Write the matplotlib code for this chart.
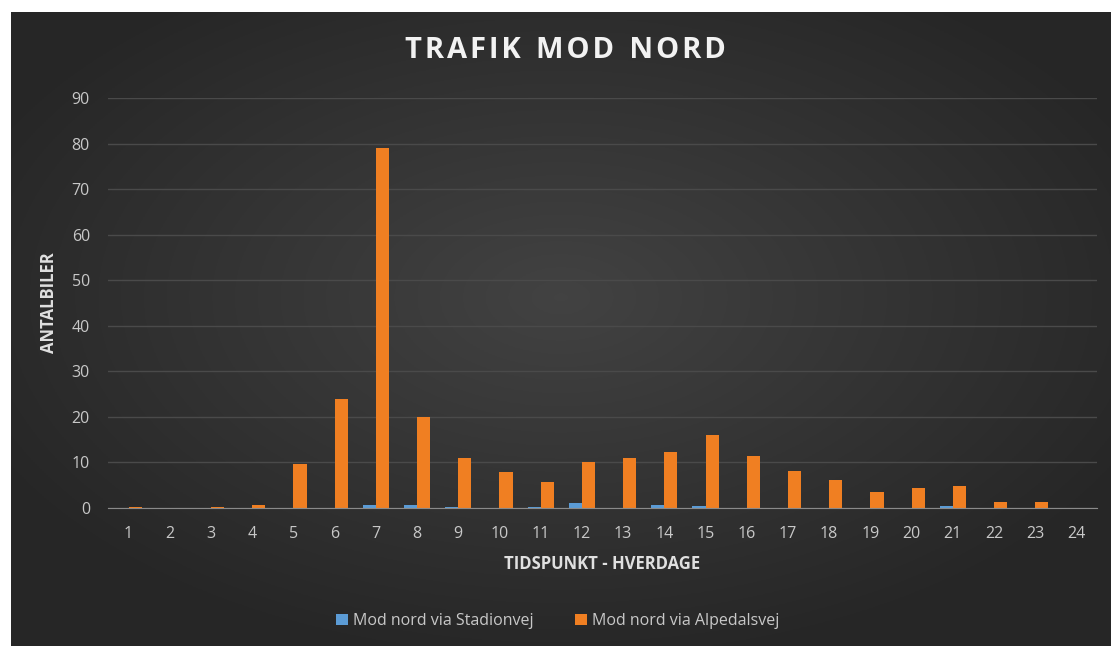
import numpy as np
import matplotlib
matplotlib.use("Agg")
import matplotlib.pyplot as plt

# data
hours = list(range(1, 25))
stadionvej = [0, 0, 0, 0.1, 0, 0, 0.6, 0.6, 0.2, 0, 0.2, 1.1,
              0, 0.6, 0.5, 0, 0.1, 0.1, 0.1, 0, 0.5, 0.1, 0, 0]
alpedalsvej = [0.2, 0, 0.2, 0.7, 9.7, 24, 79, 20, 11, 7.8, 5.6, 10,
               11, 12.2, 16, 11.5, 8.2, 6.1, 3.6, 4.4, 4.8, 1.3, 1.3, 0]
yticks = list(range(0, 100, 10))

plt.rcParams['font.family'] = ['Open Sans', 'DejaVu Sans']

W, H = 1111, 646
fig = plt.figure(figsize=(W / 100, H / 100), dpi=100, facecolor='white')

# dark background with soft radial light
bg = fig.add_axes([11 / W, 0, 1 - 11 / W, 1 - 12 / H])
bg.set_axis_off()
yy, xx = np.mgrid[0:1:300j, 0:1:500j]
r = np.sqrt(((xx - 0.5) / 0.9) ** 2 + ((yy - 0.45) / 0.9) ** 2)
shade = np.clip(0.26 - 0.17 * r, 0.15, 0.26)
bg.imshow(np.dstack([shade, shade, shade]), aspect='auto', extent=[0, 1, 0, 1])

ax = fig.add_axes([108 / W, 1 - 508 / H, (1097 - 108) / W, (508 - 98) / H])
ax.patch.set_alpha(0)
x = np.arange(len(hours))
bw = 0.32
ax.bar(x - bw / 2, stadionvej, bw, color='#5b9bd5', label='Mod nord via Stadionvej', zorder=3)
ax.bar(x + bw / 2, alpedalsvej, bw, color='#f07f22', label='Mod nord via Alpedalsvej', zorder=3)

ax.set_xlim(-0.5, len(hours) - 0.5)
ax.set_ylim(0, 90)
ax.set_yticks(yticks)
ax.set_xticks(x)
ax.set_xticklabels([str(h) for h in hours])
ax.grid(axis='y', color='#4a4a4a', linewidth=1, zorder=0)
for s in ['top', 'right', 'left']:
    ax.spines[s].set_visible(False)
ax.spines['bottom'].set_color('#8a8a8a')
ax.spines['bottom'].set_zorder(4)
ax.tick_params(length=0, colors='#c8c8c8', labelsize=11.5)
ax.tick_params(axis='x', pad=13)
ax.tick_params(axis='y', pad=13)

ax.set_xlabel('TIDSPUNKT - HVERDAGE', color='#e0e0e0', fontsize=12,
              fontweight='bold', labelpad=9)
ax.set_ylabel('ANTALBILER', color='#e0e0e0', fontsize=12,
              fontweight='bold', labelpad=10)

title = 'TRAFIK MOD NORD'
spaced = '\u200a'.join(title).replace('\u200a \u200a', '  ')
fig.text(565 / W, 1 - 50 / H, spaced,
         ha='center', va='center', color='#f2f2f2', fontsize=21, fontweight='bold')

leg = fig.legend(loc='center', bbox_to_anchor=(558 / W, 1 - 621 / H), ncol=2,
                 frameon=False, fontsize=11.5, labelcolor='#c8c8c8',
                 handlelength=0.75, handleheight=0.75, handletextpad=0.3,
                 columnspacing=2.6)

fig.savefig('out.png', dpi=100, facecolor='white')
